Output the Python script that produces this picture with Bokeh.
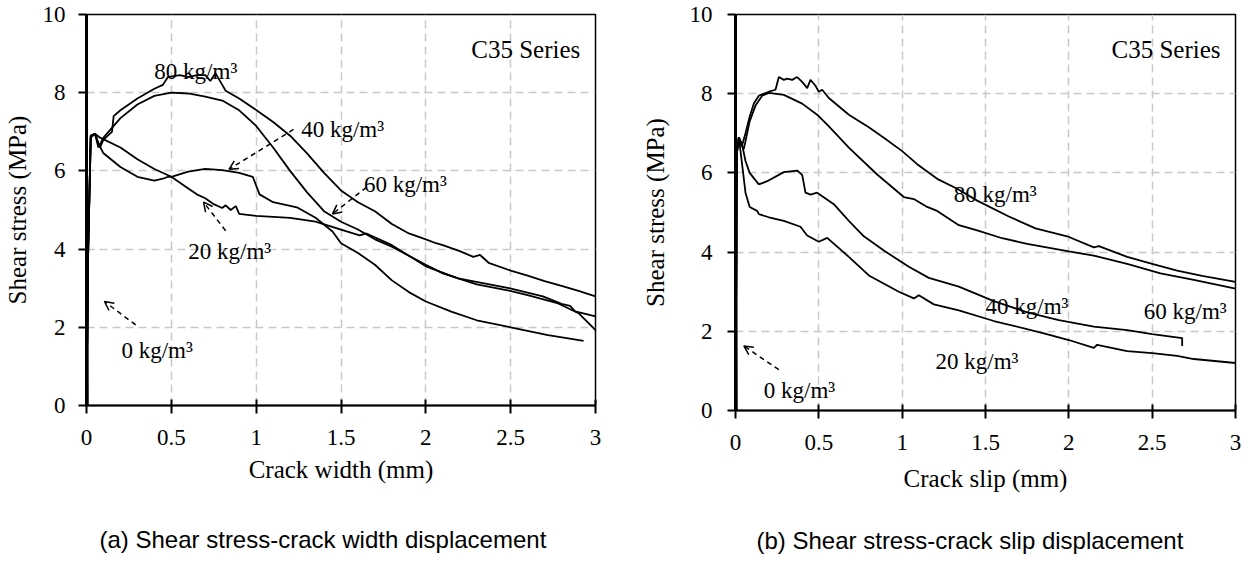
from bokeh.plotting import figure
from bokeh.layouts import row
from bokeh.models import Range1d, FixedTicker, NumeralTickFormatter, Label, Arrow, OpenHead, Title
from bokeh.embed import file_html
from bokeh.resources import INLINE

# ---------------- data: (a) shear stress vs crack width ----------------
w0_x = [0, 0.004, 0.006, 0.008]
w0_y = [0, 4.8, 4.6, 0]
w20_x = [0, 0.01, 0.025, 0.05, 0.08, 0.2, 0.3, 0.4, 0.5, 0.6, 0.65, 0.7, 0.75, 0.8, 0.82, 0.85, 0.88, 0.9, 1.0, 1.2, 1.35, 1.5, 1.61, 1.65, 1.8, 2.0, 2.19, 2.49, 2.69, 2.8, 2.85, 2.88, 3.0]
w20_y = [0, 4.0, 6.85, 6.95, 6.85, 6.6, 6.3, 6.05, 5.85, 5.55, 5.4, 5.3, 5.15, 5.05, 5.12, 5.0, 5.1, 4.9, 4.85, 4.8, 4.7, 4.5, 4.35, 4.4, 4.1, 3.56, 3.25, 3.0, 2.79, 2.6, 2.55, 2.41, 2.28]
w40_x = [0, 0.01, 0.025, 0.05, 0.07, 0.1, 0.2, 0.3, 0.4, 0.45, 0.48, 0.5, 0.6, 0.7, 0.8, 0.9, 0.98, 1.02, 1.1, 1.24, 1.35, 1.45, 1.5, 1.6, 1.7, 1.8, 1.9, 2.0, 2.15, 2.3, 2.5, 2.72, 2.93]
w40_y = [0, 4.0, 6.9, 6.95, 6.7, 6.45, 6.1, 5.85, 5.75, 5.8, 5.85, 5.85, 5.98, 6.05, 6.02, 5.95, 5.85, 5.4, 5.2, 5.07, 4.8, 4.45, 4.15, 3.9, 3.6, 3.2, 2.9, 2.66, 2.4, 2.18, 2.0, 1.8, 1.65]
w60_x = [0, 0.01, 0.025, 0.05, 0.07, 0.1, 0.2, 0.3, 0.4, 0.5, 0.6, 0.7, 0.8, 0.9, 1.0, 1.1, 1.2, 1.3, 1.4, 1.5, 1.6, 1.7, 1.8, 2.0, 2.1, 2.3, 2.49, 2.6, 2.78, 2.9, 3.0]
w60_y = [0, 4.0, 6.9, 6.95, 6.6, 6.85, 7.35, 7.7, 7.92, 8.0, 7.98, 7.9, 7.8, 7.55, 7.15, 6.6, 6.0, 5.45, 4.97, 4.7, 4.5, 4.25, 4.06, 3.6, 3.38, 3.1, 2.94, 2.82, 2.61, 2.36, 1.93]
w80_x = [0, 0.01, 0.025, 0.05, 0.08, 0.1, 0.15, 0.16, 0.2, 0.3, 0.4, 0.45, 0.48, 0.55, 0.6, 0.65, 0.7, 0.73, 0.76, 0.8, 0.82, 0.9, 1.0, 1.1, 1.2, 1.3, 1.4, 1.5, 1.6, 1.7, 1.8, 1.9, 2.0, 2.06, 2.1, 2.2, 2.28, 2.32, 2.37, 2.5, 2.6, 2.7, 2.8, 2.9, 3.0]
w80_y = [0, 4.0, 6.9, 6.95, 6.6, 6.8, 7.0, 7.4, 7.55, 7.85, 8.1, 8.2, 8.4, 8.45, 8.4, 8.45, 8.45, 8.3, 8.5, 8.2, 8.05, 7.85, 7.56, 7.25, 6.9, 6.45, 5.95, 5.5, 5.2, 4.97, 4.64, 4.4, 4.25, 4.15, 4.1, 3.95, 3.8, 3.85, 3.65, 3.45, 3.32, 3.18, 3.06, 2.93, 2.79]

# ---------------- data: (b) shear stress vs crack slip ----------------
s0_x = [0, 0.004, 0.006, 0.008]
s0_y = [0, 4.5, 4.4, 0]
s20_x = [0, 0.004, 0.008, 0.02, 0.04, 0.06, 0.085, 0.13, 0.14, 0.2, 0.29, 0.39, 0.43, 0.5, 0.55, 0.68, 0.8, 0.98, 1.07, 1.1, 1.19, 1.34, 1.55, 1.85, 2.0, 2.15, 2.17, 2.35, 2.5, 2.65, 2.75, 3.0]
s20_y = [0, 3.0, 6.6, 6.9, 6.2, 5.5, 5.14, 5.04, 4.96, 4.88, 4.79, 4.64, 4.42, 4.26, 4.36, 3.88, 3.41, 3.0, 2.83, 2.91, 2.68, 2.53, 2.26, 1.95, 1.78, 1.58, 1.66, 1.5, 1.45, 1.38, 1.3, 1.2]
s40_x = [0, 0.004, 0.008, 0.02, 0.04, 0.06, 0.085, 0.14, 0.19, 0.29, 0.37, 0.4, 0.42, 0.45, 0.49, 0.59, 0.68, 0.77, 0.89, 1.04, 1.16, 1.34, 1.55, 1.75, 1.94, 2.15, 2.35, 2.5, 2.68, 2.68]
s40_y = [0, 3.0, 6.5, 6.9, 6.7, 6.3, 6.0, 5.71, 5.79, 6.02, 6.06, 5.95, 5.5, 5.45, 5.5, 5.21, 4.79, 4.4, 4.04, 3.63, 3.35, 3.13, 2.76, 2.48, 2.28, 2.12, 2.03, 1.93, 1.83, 1.63]
s60_x = [0, 0.004, 0.008, 0.02, 0.05, 0.085, 0.12, 0.16, 0.2, 0.29, 0.4, 0.49, 0.55, 0.6, 0.68, 0.85, 1.01, 1.07, 1.15, 1.21, 1.34, 1.45, 1.6, 1.75, 2.0, 2.15, 2.35, 2.55, 2.75, 3.0]
s60_y = [0, 3.0, 6.5, 6.8, 6.6, 7.3, 7.7, 7.95, 8.02, 7.97, 7.75, 7.47, 7.22, 7.0, 6.64, 5.96, 5.39, 5.34, 5.14, 5.04, 4.68, 4.55, 4.35, 4.21, 4.02, 3.91, 3.7, 3.46, 3.3, 3.08]
s80_x = [0, 0.004, 0.008, 0.02, 0.04, 0.06, 0.085, 0.11, 0.14, 0.2, 0.24, 0.26, 0.29, 0.31, 0.34, 0.37, 0.4, 0.43, 0.45, 0.48, 0.5, 0.52, 0.56, 0.68, 0.8, 0.89, 1.0, 1.09, 1.21, 1.33, 1.45, 1.64, 1.8, 1.99, 2.15, 2.18, 2.35, 2.5, 2.65, 2.8, 3.0]
s80_y = [0, 3.0, 6.5, 6.9, 6.7, 7.0, 7.42, 7.75, 7.95, 8.05, 8.1, 8.42, 8.35, 8.38, 8.35, 8.42, 8.3, 8.14, 8.35, 8.2, 8.05, 8.1, 7.89, 7.47, 7.15, 6.89, 6.55, 6.22, 5.85, 5.6, 5.3, 4.9, 4.6, 4.4, 4.12, 4.15, 3.88, 3.7, 3.53, 3.4, 3.25]

x_ticks = [0, 0.5, 1, 1.5, 2, 2.5, 3]
y_ticks = [0, 2, 4, 6, 8, 10]
series_names = ["0 kg/m³", "20 kg/m³", "40 kg/m³", "60 kg/m³", "80 kg/m³"]

# ---------------- annotation placement (layout) ----------------
lab_a = [(4, 0.40, 8.55), (2, 1.265, 7.06), (3, 1.635, 5.66), (1, 0.60, 3.93), (0, 0.206, 1.40)]
arr_a = [(1.22, 7.06, 0.84, 6.04), (1.65, 5.58, 1.45, 4.90), (0.82, 4.47, 0.69, 5.20), (0.29, 2.06, 0.106, 2.66)]
lab_b = [(4, 1.31, 5.46), (3, 2.45, 2.51), (2, 1.50, 2.63), (1, 1.20, 1.25), (0, 0.17, 0.50)]
arr_b = [(0.26, 1.03, 0.05, 1.63)]

SERIF = "Liberation Serif"
SANS = "Liberation Sans"


def make_fig(fw, fh, bl, br, bb, xlabel, y_std, y_lab_std, x_lab_std, caption, cap_off, cap_std):
    p = figure(frame_width=fw, frame_height=fh, min_border_left=bl, min_border_right=br,
               min_border_top=14, min_border_bottom=bb,
               x_range=Range1d(0, 3), y_range=Range1d(0, 10),
               output_backend="svg", toolbar_location=None)
    p.background_fill_color = "white"
    p.border_fill_color = "white"
    p.outline_line_color = "black"
    p.outline_line_width = 1.5
    p.outline_line_alpha = 1.0

    xa = p.xaxis[0]
    ya = p.yaxis[0]
    xa.ticker = FixedTicker(ticks=x_ticks)
    ya.ticker = FixedTicker(ticks=y_ticks)
    xa.formatter = NumeralTickFormatter(format="0.[0]")
    ya.formatter = NumeralTickFormatter(format="0")
    for ax in (xa, ya):
        ax.axis_line_color = "black"
        ax.major_tick_line_color = "black"
        ax.major_tick_line_width = 2
        ax.minor_tick_line_color = None
        ax.major_label_text_font = SERIF
        ax.major_label_text_font_size = "23px"
        ax.major_label_text_color = "black"
        ax.axis_label_text_font = SERIF
        ax.axis_label_text_font_size = "25px"
        ax.axis_label_text_font_style = "normal"
        ax.axis_label_text_color = "black"
    xa.axis_line_width = 2
    ya.axis_line_width = 3
    xa.major_tick_in = 6
    xa.major_tick_out = 8
    ya.major_tick_in = 0
    ya.major_tick_out = 8
    xa.major_label_standoff = 16
    xa.axis_label = xlabel
    xa.axis_label_standoff = x_lab_std
    ya.axis_label = "Shear stress (MPa)"
    ya.major_label_standoff = y_std
    ya.axis_label_standoff = y_lab_std

    for g in (p.xgrid[0], p.ygrid[0]):
        g.grid_line_color = "#c8c8c8"
        g.grid_line_dash = "8 5"
        g.grid_line_width = 1.5
    p.xgrid[0].ticker = FixedTicker(ticks=x_ticks)
    p.ygrid[0].ticker = FixedTicker(ticks=y_ticks)

    p.add_layout(Label(x=2.91, y=9.11, text="C35 Series", text_align="right",
                       text_baseline="alphabetic", text_font=SERIF,
                       text_font_size="25px", text_color="black"))
    p.add_layout(Title(text=caption, align="left", offset=cap_off, standoff=cap_std,
                       text_font=SANS, text_font_size="24px", text_font_style="normal",
                       text_color="black"), "below")
    return p


p1 = make_fig(509, 391, 82, 16, 147, "Crack width (mm)", 13, 9, 8,
              "(a) Shear stress-crack width displacement", 13, 76)
p2 = make_fig(500, 396, 124, 8, 142, "Crack slip (mm)", 15, 18, 12,
              "(b) Shear stress-crack slip displacement", 21, 60)

for p, curves in ((p1, [(w0_x, w0_y), (w20_x, w20_y), (w40_x, w40_y), (w60_x, w60_y), (w80_x, w80_y)]),
                  (p2, [(s0_x, s0_y), (s20_x, s20_y), (s40_x, s40_y), (s60_x, s60_y), (s80_x, s80_y)])):
    for xs, ys in curves:
        p.line(xs, ys, line_color="black", line_width=1.8)

for p, labs, arrs in ((p1, lab_a, arr_a), (p2, lab_b, arr_b)):
    for i, lx, ly in labs:
        p.add_layout(Label(x=lx, y=ly, text=series_names[i], text_align="left",
                           text_baseline="alphabetic", text_font=SERIF,
                           text_font_size="23px", text_color="black"))
    for x0, y0, x1, y1 in arrs:
        p.add_layout(Arrow(x_start=x0, y_start=y0, x_end=x1, y_end=y1,
                           line_color="black", line_width=1.5, line_dash="5 4",
                           end=OpenHead(size=9, line_color="black", line_width=1.5)))

layout = row(p1, p2)
open("out.html", "w").write(file_html(layout, INLINE))
